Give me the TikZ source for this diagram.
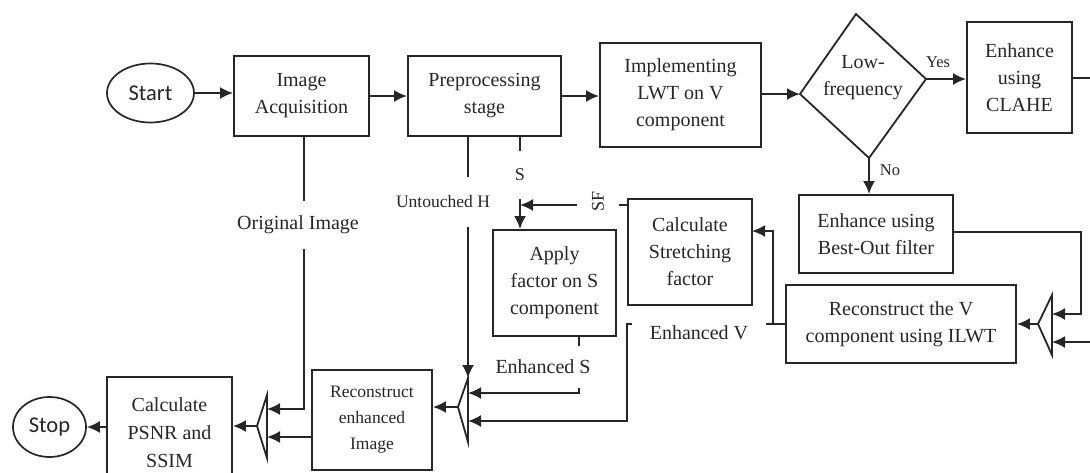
\documentclass[tikz,border=0pt]{standalone}
\usepackage{fontspec}
\setmainfont{Liberation Serif}
\newfontfamily\calibrifont{Carlito}
\usetikzlibrary{arrows.meta,calc,shapes.geometric}
\begin{document}
\begin{tikzpicture}[x=1pt,y=-1pt,
  every node/.style={text=black!85},
  box/.style={draw=black!85, line width=1.9pt, align=center, inner sep=0pt, font=\fontsize{20}{27}\selectfont},
  term/.style={draw=black!85, line width=1.7pt, ellipse, inner sep=0pt, font=\calibrifont\fontsize{22.5}{27}\selectfont},
  conn/.style={draw=black!85, line width=1.9pt},
  arr/.style={conn, -{Latex[length=13pt,width=12pt]}},
  lbl/.style={fill=white, inner xsep=2pt, font=\fontsize{20}{24}\selectfont},
  small/.style={font=\fontsize{16.5}{20}\selectfont},
  merger/.style={draw=black!85, line width=1.8pt, line join=miter},
]
\useasboundingbox (0,0) rectangle (1090,472);
\clip (0,0) rectangle (1090,472);

% ---------- nodes ----------
\node[term, minimum width=87pt, minimum height=59pt] (start) at (150.5,93) {Start};
\node[box, minimum width=135pt, minimum height=80pt] (ia) at (301.5,96) {Image\\Acquisition};
\node[box, minimum width=153pt, minimum height=80pt] (pp) at (484.5,96) {Preprocessing\\stage};
\node[box, minimum width=161pt, minimum height=104pt] (lwt) at (680.5,95) {Implementing\\LWT on V\\component};
\node[box, minimum width=105pt, minimum height=111pt] (clahe) at (1019.5,77.5) {Enhance\\using\\CLAHE};
\node[box, minimum width=154pt, minimum height=78pt] (bo) at (876,234) {Enhance using\\Best-Out filter};
\node[box, minimum width=230pt, minimum height=78pt] (rv) at (901,324) {Reconstruct the V\\component using ILWT};
\node[box, minimum width=124pt, minimum height=106pt] (csf) at (690,252) {Calculate\\Stretching\\factor};
\node[box, minimum width=123pt, minimum height=106pt] (af) at (554.5,283) {Apply\\factor on S\\component};
\node[box, minimum width=120pt, minimum height=100pt, font=\fontsize{17.5}{26}\selectfont] (rei) at (372,420) {Reconstruct\\enhanced\\Image};
\node[box, minimum width=125pt, minimum height=112pt, font=\fontsize{20}{28}\selectfont] (psnr) at (169.5,433) {Calculate\\PSNR and\\SSIM};
\node[term, minimum width=73pt, minimum height=60pt] (stop) at (49.5,427) {Stop};

% decision diamond
\coordinate (dL) at (800,94);
\coordinate (dT) at (856,14);
\coordinate (dR) at (926,79);
\coordinate (dB) at (869,158);
\draw[merger] (dL) -- (dT) -- (dR) -- (dB) -- cycle;
\node[box, draw=none] (dtext) at (863,78) {Low-\\frequency};
\node[small] (yes) at (938,62) {Yes};
\node[small] (no) at (890,170) {No};

% mergers
\coordinate (mRt) at (1052,295); \coordinate (mRa) at (1038,324); \coordinate (mRb) at (1052,355);
\coordinate (mRi1) at (1052,314); \coordinate (mRi2) at (1052,342);
\draw[merger] (mRt) -- (mRa) -- (mRb) -- cycle;

\coordinate (mMt) at (468,378); \coordinate (mMa) at (458,407); \coordinate (mMb) at (468,442);
\coordinate (mMi1) at (468,393); \coordinate (mMi2) at (468,421);
\draw[merger] (mMt) -- (mMa) -- (mMb) -- cycle;

\coordinate (mLt) at (267,395); \coordinate (mLa) at (257,426); \coordinate (mLb) at (267,458);
\coordinate (mLi1) at (267,409); \coordinate (mLi2) at (267,437);
\draw[merger] (mLt) -- (mLa) -- (mLb) -- cycle;

% ---------- connectors ----------
\draw[arr] (start.east) -- (start.east -| ia.west);
\draw[arr] (ia.east) -- (pp.west);
\draw[arr] (pp.east) -- (pp.east -| lwt.west);
\draw[arr] (lwt.east |- dL) -- (dL);
\draw[arr] (dR) -- (dR -| clahe.west);
\draw[arr] (dB) -- (dB |- bo.north);

\coordinate (cutA) at (1090,78);
\draw[conn] (clahe.east |- cutA) -- (cutA);
\coordinate (boTurn) at (1081,232);
\draw[arr] (bo.east |- boTurn) -- (boTurn) |- (mRi1);
\coordinate (cutB) at (1090,342);
\draw[arr] (cutB) -- (mRi2);
\draw[arr] (mRa) -- (mRa -| rv.east);

\coordinate (evC) at (627,324);
\draw[arr] (rv.west) -- (evC) |- (mMi2);
\coordinate (br) at (773,324);
\coordinate (csfIn) at (752,231);
\draw[arr] (br) |- (csfIn);

\coordinate (sTip) at (520,205);
\draw[arr] (csf.west |- sTip) -- (sTip);
\draw[arr] (pp.south -| sTip) -- (af.north -| sTip);

\draw[arr] (pp.south -| mMt) -- (mMt);

\coordinate (esC) at (579,393);
\draw[arr] (af.south -| esC) -- (esC) -- (mMi1);
\draw[arr] (mMa) -- (mMa -| rei.east);

\coordinate (oiC) at (304,409);
\draw[arr] (ia.south -| oiC) -- (oiC) -- (mLi1);
\draw[arr] (rei.west |- mLi2) -- (mLi2);
\draw[arr] (mLa) -- (mLa -| psnr.east);
\draw[arr] (psnr.west |- stop.east) -- (stop.east);

% ---------- line labels ----------
\node[lbl, inner ysep=19pt, font=\fontsize{17.5}{20}\selectfont] (lUH) at (443,202) {Untouched H};
\node[lbl, inner ysep=18pt, font=\fontsize{18}{20}\selectfont] (lS) at (520,175) {S};
\node[lbl, rotate=90, inner ysep=15pt, inner xsep=1pt, font=\fontsize{18}{20}\selectfont] (lSF) at (598,201) {SF};
\node[lbl, inner ysep=15pt] (lOI) at (298,225) {Original Image};
\node[lbl, inner ysep=14pt] (lES) at (543,367) {Enhanced S};
\node[lbl, inner xsep=18pt, inner ysep=8pt] (lEV) at (699,333) {Enhanced V};
\end{tikzpicture}
\end{document}
